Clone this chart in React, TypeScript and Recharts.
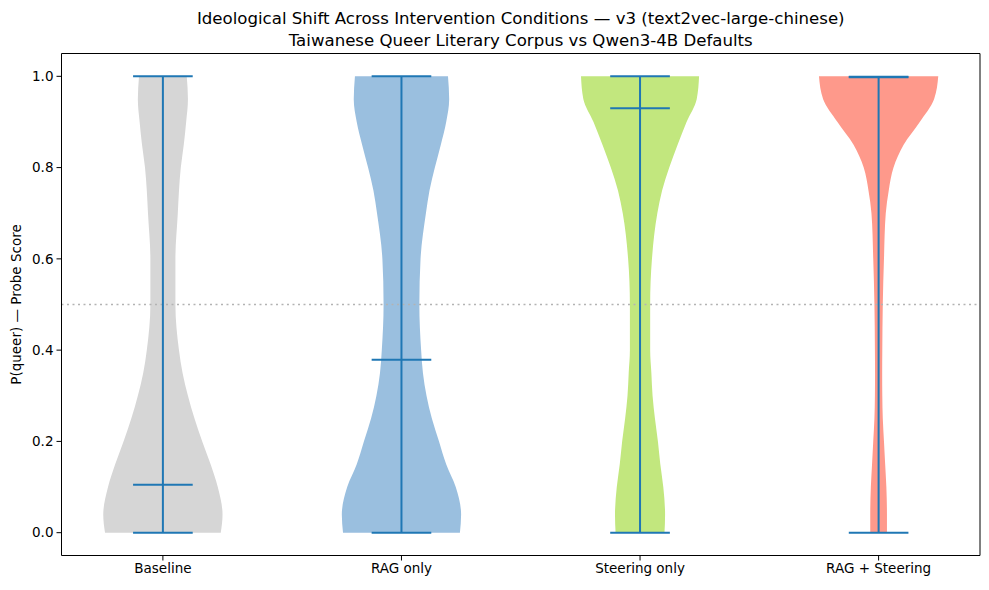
import React from "react";
import { ComposedChart, Area, XAxis, YAxis, ReferenceLine } from "recharts";

document.body.style.margin = "0";

const conditions = ["Baseline", "RAG only", "Steering only", "RAG + Steering"];
const positions = [1, 2, 3, 4];
const fills = ["#d6d6d6", "#9abfdf", "#c2e77e", "#fe998b"];

// score levels where the density outline was read
const levels = [0, 0.04, 0.1, 0.15, 0.2, 0.25, 0.3, 0.35, 0.4, 0.5, 0.6, 0.7, 0.75, 0.8, 0.85, 0.9, 0.95, 1.0];

// normalised density (1 = widest point of that violin's scale)
const baselineDensity = [0.97, 1.0, 0.92, 0.8, 0.66, 0.53, 0.42, 0.33, 0.27, 0.21, 0.21, 0.25, 0.27, 0.3, 0.35, 0.39, 0.42, 0.4];
const ragDensity = [0.98, 1.0, 0.91, 0.75, 0.63, 0.51, 0.42, 0.36, 0.33, 0.3, 0.32, 0.41, 0.47, 0.56, 0.66, 0.75, 0.8, 0.78];
const steeringDensity = [0.41, 0.42, 0.39, 0.34, 0.3, 0.25, 0.21, 0.19, 0.17, 0.17, 0.2, 0.29, 0.37, 0.49, 0.63, 0.78, 0.95, 0.99];
const bothDensity = [0.14, 0.14, 0.13, 0.11, 0.09, 0.07, 0.062, 0.06, 0.062, 0.07, 0.09, 0.12, 0.17, 0.25, 0.42, 0.69, 0.93, 1.0];

const densities = [baselineDensity, ragDensity, steeringDensity, bothDensity];

const mins = [0, 0, 0, 0];
const maxs = [1, 1, 1, 0.999];
const medians = [0.105, 0.379, 0.93, 0.998];

const yTicks = [0, 0.2, 0.4, 0.6, 0.8, 1.0];

const HALF = 0.25;
const CAP = 0.125;

const data = levels.map((level, i) => {
  const row: Record<string, any> = { level };
  densities.forEach((d, k) => {
    row["v" + k] = [positions[k] - d[i] * HALF, positions[k] + d[i] * HALF];
  });
  return row;
});

const font = "DejaVu Sans, sans-serif";
const tickStyle = { fill: "#000", fontSize: 13.5, fontFamily: font };
const blue = "#1f77b4";
const xDomain = [0.575, 4.425];
const yDomain = [-0.05, 1.05];

export default function App() {
  return (
    <div style={{ position: "relative", width: 989, height: 590, background: "#fff" }}>
      <div
        style={{
          position: "absolute",
          top: 7.5,
          left: 61.5,
          width: 918.5,
          textAlign: "center",
          fontFamily: font,
          fontSize: 16.6,
          lineHeight: "22.4px",
          color: "#000",
        }}
      >
        Ideological Shift Across Intervention Conditions — v3 (text2vec-large-chinese)
        <br />
        Taiwanese Queer Literary Corpus vs Qwen3-4B Defaults
      </div>
      <ComposedChart
        width={989}
        height={590}
        data={data}
        layout="vertical"
        margin={{ top: 53.5, right: 9, bottom: 0, left: 0 }}
      >
        <XAxis
          type="number"
          domain={xDomain}
          ticks={positions}
          tickFormatter={(v: number) => conditions[positions.indexOf(v)] ?? ""}
          allowDataOverflow
          height={34.5}
          tick={tickStyle}
          tickSize={5}
          tickMargin={3}
          stroke="#000"
          tickLine={{ stroke: "#000" }}
        />
        <YAxis
          type="number"
          dataKey="level"
          domain={yDomain}
          ticks={yTicks}
          reversed
          allowDataOverflow
          tickFormatter={(v: number) => v.toFixed(1)}
          width={61.5}
          tick={tickStyle}
          tickSize={5}
          tickMargin={3}
          stroke="#000"
          tickLine={{ stroke: "#000" }}
          label={{
            value: "P(queer) — Probe Score",
            angle: -90,
            position: "insideLeft",
            offset: 16,
            style: { textAnchor: "middle", fill: "#000", fontSize: 13.5, fontFamily: font },
          }}
        />
        {conditions.map((c, k) => (
          <Area
            key={c}
            name={c}
            type="monotone"
            dataKey={"v" + k}
            fill={fills[k]}
            fillOpacity={1}
            stroke="none"
            dot={false}
            activeDot={false}
            isAnimationActive={false}
          />
        ))}
        <ReferenceLine y={0.5} stroke="#b3b3b3" strokeWidth={1.5} strokeDasharray="2 3.5" />
        {positions.map((p, k) => (
          <ReferenceLine
            key={"stem" + k}
            segment={[
              { x: p, y: mins[k] },
              { x: p, y: maxs[k] },
            ]}
            stroke={blue}
            strokeWidth={2}
          />
        ))}
        {positions.map((p, k) =>
          [mins[k], maxs[k], medians[k]].map((v, j) => (
            <ReferenceLine
              key={"cap" + k + "-" + j}
              segment={[
                { x: p - CAP, y: v },
                { x: p + CAP, y: v },
              ]}
              stroke={blue}
              strokeWidth={2}
            />
          ))
        )}
        {/* top and right spines */}
        <ReferenceLine y={yDomain[1]} stroke="#000" strokeWidth={1} />
        <ReferenceLine x={xDomain[1]} stroke="#000" strokeWidth={1} />
      </ComposedChart>
    </div>
  );
}
